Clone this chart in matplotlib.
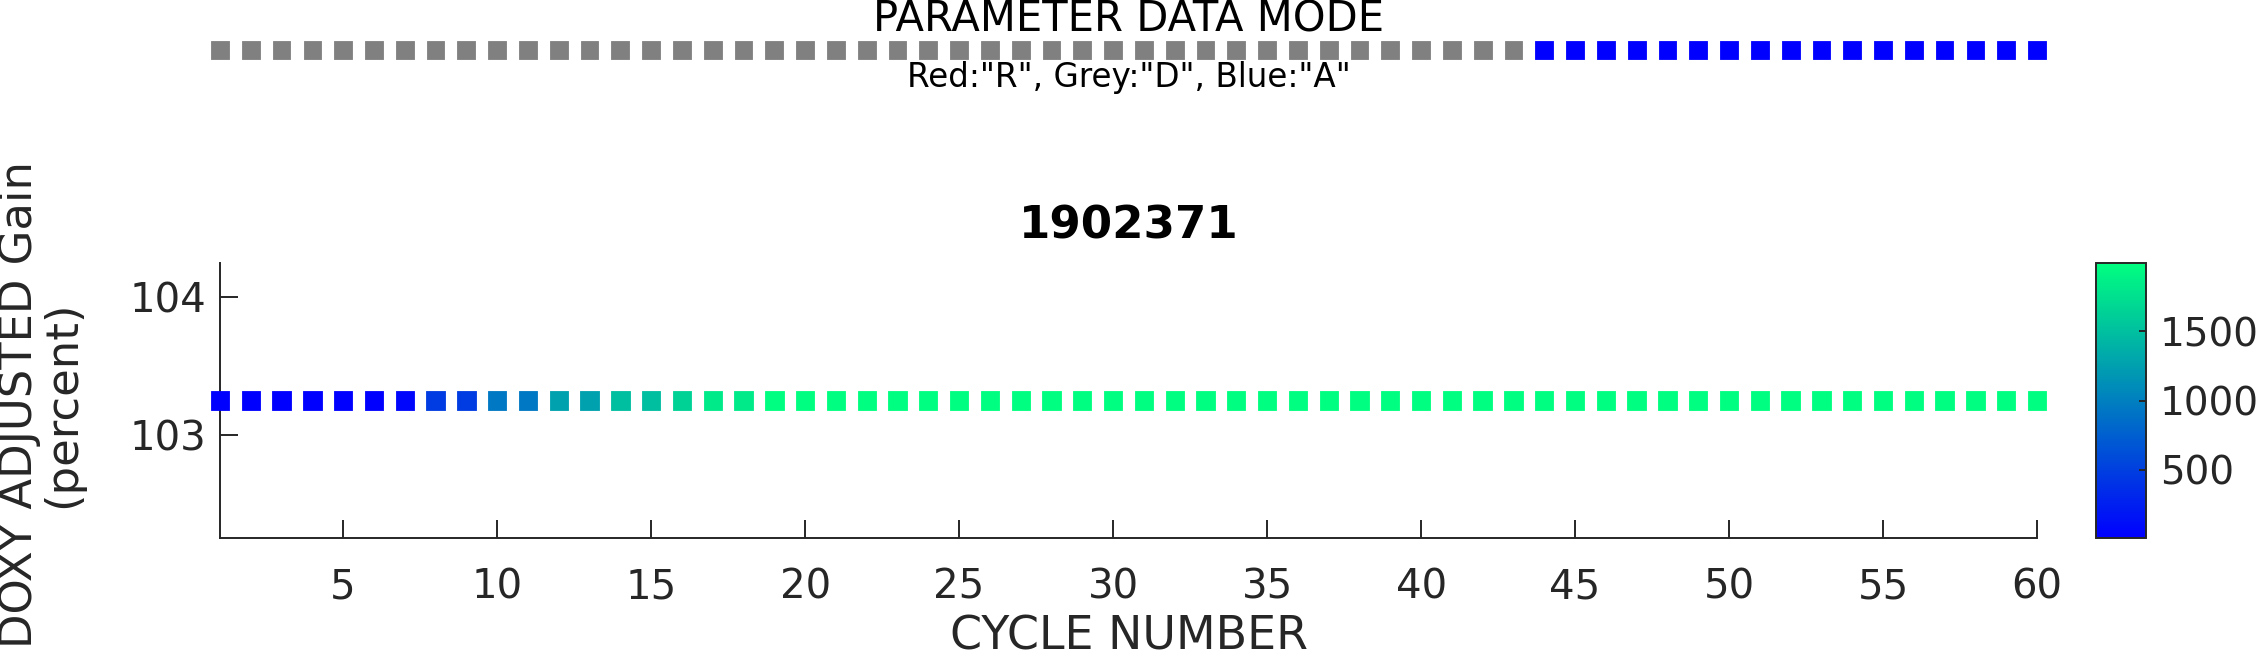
import numpy as np
import matplotlib
matplotlib.use("Agg")
import matplotlib.pyplot as plt
from matplotlib.colors import Normalize

# ---- data ----
cycles = list(range(1, 61))
data_mode = ['D'] * 43 + ['A'] * 17
mode_colors = {'R': '#ff0000', 'D': '#808080', 'A': '#0000ff'}
gain = [103.25] * 60
color_values = ([10, 10, 10, 10, 10, 10, 60, 480, 480, 940, 940, 1260, 1260,
                 1480, 1480, 1640, 1820, 1820] + [1990] * 42)
yticks = [103, 104]
xticks = [5, 10, 15, 20, 25, 30, 35, 40, 45, 50, 55, 60]
cbar_ticks = [500, 1000, 1500]

W, H = 2257, 660
fig = plt.figure(figsize=(W / 100, H / 100), dpi=100)
plt.rcParams['font.family'] = ['DejaVu Sans']
axcol = '#262626'

def fx(px):
    return px / W

def fy(py):
    return 1 - py / H

ax_left, ax_right, ax_top, ax_bot = 220, 2037, 263, 538
ax = fig.add_axes([fx(ax_left), fy(ax_bot), fx(ax_right - ax_left), (ax_bot - ax_top) / H])

norm = Normalize(vmin=min(color_values), vmax=max(color_values))
cmap = plt.get_cmap('winter')
sc = ax.scatter(cycles, gain, c=color_values, cmap=cmap, norm=norm, marker='s',
                s=13.2 ** 2, linewidths=0.6,
                edgecolors='face', clip_on=False, zorder=3)
ax.set_xlim(1, 60)
ax.set_ylim(102.25, 104.25)
ax.set_xticks(xticks)
ax.set_yticks(yticks)
for s in ['top', 'right']:
    ax.spines[s].set_visible(False)
for s in ['left', 'bottom']:
    ax.spines[s].set_color(axcol)
    ax.spines[s].set_linewidth(1.4)
ax.tick_params(axis='both', direction='in', length=13, width=1.4, colors=axcol,
               labelsize=29, labelcolor=axcol)
ax.tick_params(axis='x', pad=21)
ax.tick_params(axis='y', pad=10)

# colorbar
cax = fig.add_axes([fx(2096), fy(ax_bot), fx(50), (ax_bot - ax_top) / H])
cb = fig.colorbar(sc, cax=cax, ticks=cbar_ticks)
cb.outline.set_edgecolor(axcol)
cb.outline.set_linewidth(1.4)
cax.tick_params(direction='in', length=5, width=1.4, colors=axcol, labelsize=28,
                labelcolor=axcol, pad=10)

# data mode strip
sax = fig.add_axes([fx(ax_left), fy(62), fx(ax_right - ax_left), 24 / H])
sax.scatter(cycles, [0.5] * len(cycles), c=[mode_colors[m] for m in data_mode],
            marker='s', s=12.8 ** 2, linewidths=0.6, edgecolors='face',
            clip_on=False)
sax.set_xlim(1, 60)
sax.set_ylim(0, 1)
sax.axis('off')

cx = fx((ax_left + ax_right) / 2)
fig.text(cx, fy(20), 'PARAMETER DATA MODE', ha='center', va='center', fontsize=30, color='black')
fig.text(cx, fy(77), 'Red:"R", Grey:"D", Blue:"A"', ha='center', va='center', fontsize=23.5, color='black')
fig.text(cx, fy(226), '1902371', ha='center', va='center', fontsize=32.5, fontweight='bold', color='black')
fig.text(cx, fy(637), 'CYCLE NUMBER', ha='center', va='center', fontsize=33, color=axcol)
fig.text(fx(41), fy(404), 'DOXY ADJUSTED Gain\n(percent)', rotation=90,
         ha='center', va='center', multialignment='center', fontsize=32.3, color=axcol,
         linespacing=1.0)

fig.savefig('out.png', dpi=100)
